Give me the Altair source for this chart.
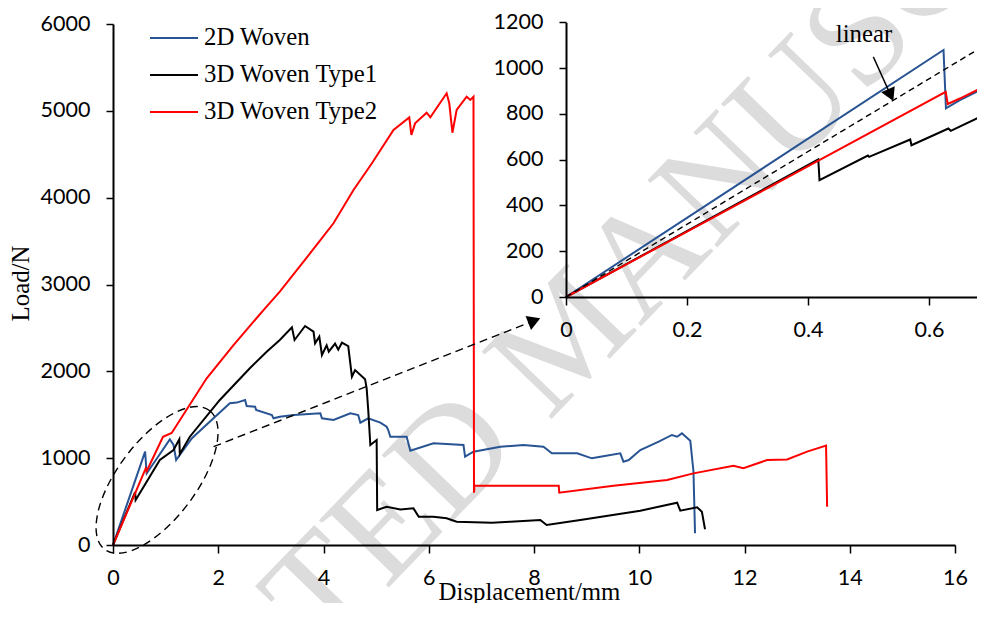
import altair as alt
import pandas as pd

SERIES = ["2D Woven", "3D Woven Type1", "3D Woven Type2"]
COLORS = ["#285493", "#000000", "#FF0000"]

# ---- main plot data (Displacement mm, Load N) ----
W2D_X = [0, 0.61, 0.64, 0.85, 1.08, 1.15, 1.2, 1.5, 1.91, 2.22, 2.35, 2.51, 2.54, 2.70, 2.72, 3.02,
         3.05, 3.17, 3.43, 3.94, 3.97, 4.19, 4.51, 4.66, 4.70, 4.85, 5.08, 5.20, 5.23, 5.27, 5.58,
         5.65, 6.09, 6.66, 6.69, 6.85, 7.36, 7.80, 8.18, 8.34, 8.82, 9.10, 9.26, 9.64, 9.70, 9.80,
         10.02, 10.37, 10.62, 10.72, 10.81, 10.97, 11.03, 11.06]
W2D_Y = [0, 1075, 826, 1010, 1217, 1152, 979, 1230, 1459, 1632, 1640, 1670, 1601, 1593, 1555, 1497,
         1459, 1478, 1497, 1517, 1459, 1440, 1517, 1497, 1409, 1459, 1409, 1362, 1324, 1247, 1247,
         1086, 1171, 1152, 1017, 1075, 1132, 1152, 1132, 1056, 1056, 998, 1017, 1056, 960, 979,
         1094, 1190, 1267, 1247, 1286, 1200, 850, 135]

T1_X = [0, 0.42, 0.43, 0.89, 1.15, 1.26, 1.27, 1.46, 2.03, 2.60, 2.92, 3.17, 3.40, 3.45, 3.65, 3.81,
        3.84, 3.92, 3.97, 4.06, 4.10, 4.22, 4.28, 4.35, 4.47, 4.54, 4.60, 4.79, 4.82, 4.85, 4.89,
        5.01, 5.02, 5.20, 5.46, 5.71, 5.81, 6.09, 6.34, 6.53, 7.20, 7.55, 8.12, 8.24, 8.88, 10.02,
        10.72, 10.78, 11.10, 11.19, 11.25]
T1_Y = [0, 610, 518, 979, 1094, 1217, 1048, 1247, 1670, 2035, 2226, 2361, 2507, 2361, 2522, 2457,
        2323, 2400, 2188, 2300, 2226, 2320, 2250, 2330, 2290, 1938, 2015, 1910, 1805, 1555, 1152,
        1209, 403, 441, 410, 422, 326, 326, 307, 269, 257, 269, 288, 230, 288, 395,
        487, 395, 434, 384, 181]

T2_X = [0, 0.61, 0.62, 0.64, 0.95, 1.115, 1.78, 2.29, 2.86, 3.17, 3.87, 4.19, 4.57, 4.92, 5.33, 5.63,
        5.67, 5.74, 5.96, 6.03, 6.34, 6.39, 6.45, 6.53, 6.72, 6.79, 6.85, 6.86, 6.87, 8.47, 8.48,
        9.51, 10.53, 11.03, 11.79, 11.98, 12.43, 12.81, 13.19, 13.55, 13.57]
T2_Y = [0, 864, 880, 850, 1247, 1290, 1920, 2303, 2706, 2917, 3455, 3705, 4088, 4396, 4779, 4925,
        4722, 4856, 4979, 4925, 5202, 5087, 4748, 5010, 5163, 5125, 5163, 602, 683, 683, 602,
        683, 749, 825, 913, 885, 979, 986, 1075, 1144, 441]

# ---- inset data (0 - 0.68 mm) ----
IN_2D_X = [0, 0.624, 0.628, 0.651, 0.68]
IN_2D_Y = [0, 1079, 824, 860, 898]
IN_T1_X = [0, 0.417, 0.419, 0.499, 0.501, 0.569, 0.571, 0.632, 0.636, 0.68]
IN_T1_Y = [0, 601, 510, 618, 612, 688, 663, 736, 726, 781]
IN_T2_X = [0, 0.6276, 0.631, 0.651, 0.68]
IN_T2_Y = [0, 896, 843, 867, 905]
LINEAR_X = [0, 0.68]
LINEAR_Y = [0, 1080]

# ---- annotations ----
ELLIPSE_X = [0.837]
ELLIPSE_Y = [749]
ZOOM_ARROW_X = [1.91, 8.005]
ZOOM_ARROW_Y = [1132, 2584]
ZOOM_HEAD_X = [8.005]
ZOOM_HEAD_Y = [2584]
LIN_ARROW_X = [0.508, 0.5366]
LIN_ARROW_Y = [1049, 882]
LIN_HEAD_X = [0.5366]
LIN_HEAD_Y = [882]
LIN_TEXT_X = [0.4926]
LIN_TEXT_Y = [1114]
WATERMARK_X = [8.68]
WATERMARK_Y = [2400]

X_TICKS = list(range(0, 17, 2))
Y_TICKS = list(range(0, 6001, 1000))
IX_TICKS = [0, 0.2, 0.4, 0.6]
IY_TICKS = list(range(0, 1201, 200))

SANS = "Lato"
SERIF = "Liberation Serif"
SERIF_SIZE = 24.8


def series_df(xs_list, ys_list):
    rows = []
    for name, xs, ys in zip(SERIES, xs_list, ys_list):
        for i, (x, y) in enumerate(zip(xs, ys)):
            rows.append({"series": name, "x": x, "y": y, "i": i})
    return pd.DataFrame(rows)


def pts(xs, ys):
    return pd.DataFrame({"x": xs, "y": ys, "i": list(range(len(xs)))})


axis_common = dict(
    grid=False, domainColor="black", domainWidth=2, tickColor="black", tickWidth=1.5,
    labelFont=SANS, labelFontSize=21.5, labelColor="black", labelFlush=False,
    labelOverlap=False, labelBound=False, zindex=1,
)

# main scales / axes
X_MAIN = alt.X("x:Q", scale=alt.Scale(domain=[0, 16], nice=False, zero=False),
               axis=alt.Axis(values=X_TICKS, format="d", tickSize=8, labelPadding=14,
                             title="Displacement/mm", titleFont=SERIF, titleFontSize=SERIF_SIZE,
                             titleFontWeight="normal", titleColor="black", titleX=416, titleY=54,
                             titleBaseline="alphabetic", titleAlign="center", **axis_common))
Y_MAIN = alt.Y("y:Q", scale=alt.Scale(domain=[0, 6000], nice=False, zero=False),
               axis=alt.Axis(values=Y_TICKS, format="d", tickSize=7, labelPadding=16,
                             title="Load/N", titleFont=SERIF, titleFontSize=SERIF_SIZE,
                             titleFontWeight="normal", titleColor="black", titleX=-85, titleY=259,
                             titleAngle=270, titleBaseline="alphabetic", titleAlign="center",
                             **axis_common))

# inset scales / axes (placed inside the main plot area by pixel range)
X_IN = alt.X("x:Q", scale=alt.Scale(domain=[0, 0.68], range=[453, 864.4], nice=False, zero=False),
             axis=alt.Axis(values=IX_TICKS, format="~g", orient="bottom", offset=-248, tickSize=8,
                           labelPadding=14, title=None, **axis_common))
Y_IN = alt.Y("y:Q", scale=alt.Scale(domain=[0, 1200], range=[273, -1.7], nice=False, zero=False),
             axis=alt.Axis(values=IY_TICKS, format="d", orient="left", offset=-453, tickSize=7,
                           labelPadding=16, title=None, **axis_common))

color_main = alt.Color(
    "series:N",
    scale=alt.Scale(domain=SERIES, range=COLORS),
    legend=alt.Legend(orient="none", legendX=36, legendY=-11, title=None, symbolType="stroke",
                      symbolSize=2304, symbolStrokeWidth=2, labelFont=SERIF,
                      labelFontSize=SERIF_SIZE, labelColor="black", labelOffset=5, labelLimit=0,
                      rowPadding=-7, padding=0, direction="vertical"),
)

ELLIPSE_PATH = ("M 1 0 C 1 0.2485 0.5523 0.45 0 0.45 C -0.5523 0.45 -1 0.2485 -1 0 "
                "C -1 -0.2485 -0.5523 -0.45 0 -0.45 C 0.5523 -0.45 1 -0.2485 1 0 Z")

watermark = alt.Chart(pts(WATERMARK_X, WATERMARK_Y)).mark_text(
    text="ACCEPTED MANUSCRIPT", font=SERIF, fontSize=148, color="#dcdcdc", angle=314,
    align="center", baseline="middle").encode(x=X_MAIN, y=Y_MAIN)

main_lines = alt.Chart(series_df([W2D_X, T1_X, T2_X], [W2D_Y, T1_Y, T2_Y])).mark_line(
    strokeWidth=2).encode(x=X_MAIN, y=Y_MAIN, color=color_main, order="i:Q")

ellipse = alt.Chart(pts(ELLIPSE_X, ELLIPSE_Y)).mark_point(
    shape=ELLIPSE_PATH, size=30276, angle=307, filled=False, stroke="black", strokeWidth=1.4,
    strokeDash=[8, 5], opacity=1).encode(x=X_MAIN, y=Y_MAIN)

zoom_arrow = alt.Chart(pts(ZOOM_ARROW_X, ZOOM_ARROW_Y)).mark_line(
    color="black", strokeWidth=1.4, strokeDash=[8, 5]).encode(x=X_MAIN, y=Y_MAIN, order="i:Q")

zoom_head = alt.Chart(pts(ZOOM_HEAD_X, ZOOM_HEAD_Y)).mark_point(
    shape="triangle-right", size=220, angle=338.5, filled=True, color="black", opacity=1,
    strokeWidth=0).encode(x=X_MAIN, y=Y_MAIN)

main_group = alt.layer(watermark, main_lines, ellipse, zoom_arrow, zoom_head)

color_inset = alt.Color("series:N", scale=alt.Scale(domain=SERIES, range=COLORS), legend=None)

inset_lines = alt.Chart(series_df([IN_2D_X, IN_T1_X, IN_T2_X], [IN_2D_Y, IN_T1_Y, IN_T2_Y])).mark_line(
    strokeWidth=2).encode(x=X_IN, y=Y_IN, color=color_inset, order="i:Q")

linear_line = alt.Chart(pts(LINEAR_X, LINEAR_Y)).mark_line(
    color="black", strokeWidth=1.4, strokeDash=[6, 4]).encode(x=X_IN, y=Y_IN, order="i:Q")

lin_arrow = alt.Chart(pts(LIN_ARROW_X, LIN_ARROW_Y)).mark_line(
    color="black", strokeWidth=1.4).encode(x=X_IN, y=Y_IN, order="i:Q")

lin_head = alt.Chart(pts(LIN_HEAD_X, LIN_HEAD_Y)).mark_point(
    shape="triangle-right", size=220, angle=65.5, filled=True, color="black", opacity=1,
    strokeWidth=0).encode(x=X_IN, y=Y_IN)

lin_text = alt.Chart(pts(LIN_TEXT_X, LIN_TEXT_Y)).mark_text(
    text="linear", font=SERIF, fontSize=SERIF_SIZE, color="black", align="center",
    baseline="alphabetic").encode(x=X_IN, y=Y_IN)

inset_group = alt.layer(inset_lines, linear_line, lin_arrow, lin_head, lin_text)

chart = alt.layer(main_group, inset_group).resolve_scale(
    x="independent", y="independent"
).properties(
    width=842, height=521,
    autosize=alt.AutoSizeParams(type="none"),
    padding={"left": 105, "top": 16, "right": 22, "bottom": 58},
    background="white",
).configure_view(stroke=None)

chart.save("out.html", embed_options={"renderer": "svg", "actions": False})
